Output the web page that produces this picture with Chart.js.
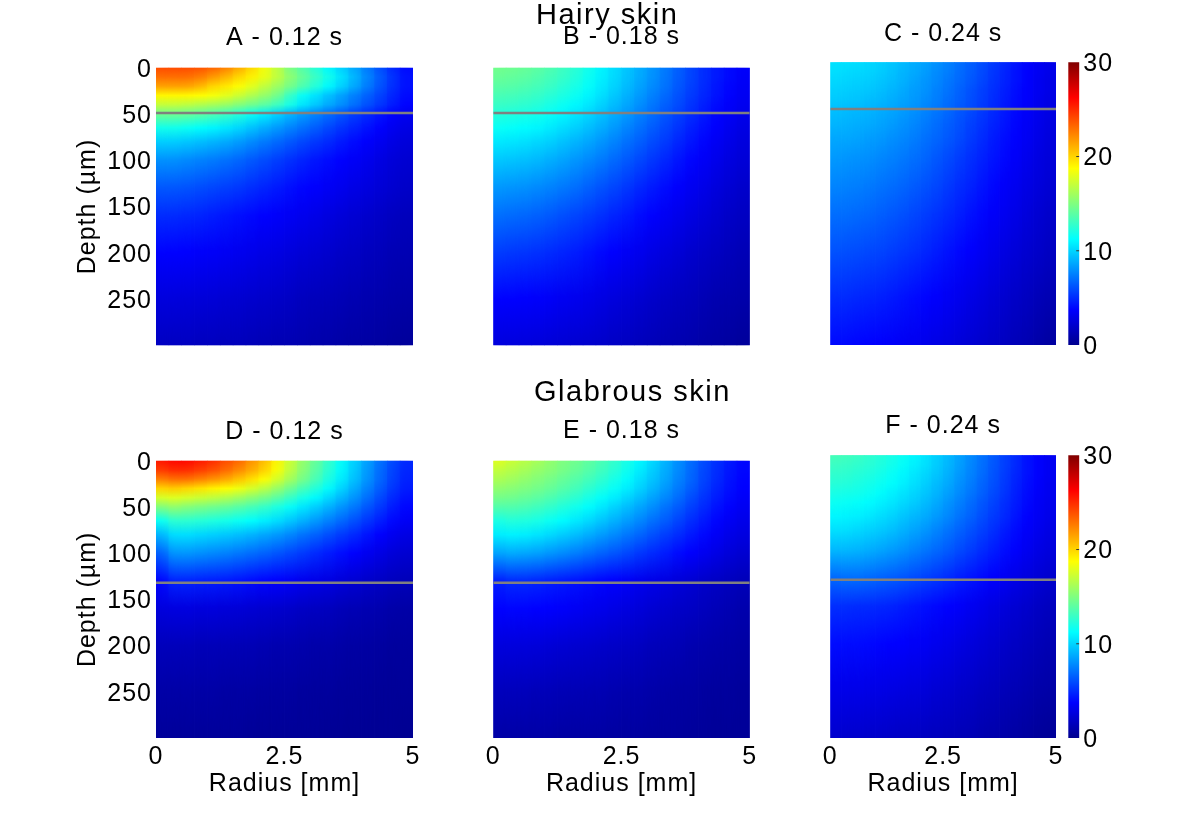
<!DOCTYPE html>
<html>
<head>
<meta charset="utf-8">
<title>Hairy and glabrous skin</title>
<script src="https://cdn.jsdelivr.net/npm/chart.js@4"></script>
<style>
    body { margin: 0; background: #fff; overflow: hidden; }
    canvas { position: absolute; }
    .sup { position: absolute; font: 29px/28px "Liberation Sans", Arial, sans-serif; letter-spacing: 1.5px; white-space: nowrap; color: #000; }
</style>
</head>
<body>
<svg width="0" height="0" style="position:absolute">
    <filter id="hblur" filterUnits="userSpaceOnUse" x="0" y="0" width="1200" height="829" color-interpolation-filters="sRGB">
        <feGaussianBlur stdDeviation="7 0"/>
    </filter>
</svg>
<div class="sup" style="left:536px;top:0px">Hairy skin</div>
<div class="sup" style="left:534px;top:377px">Glabrous skin</div>
<script>
var radii = [0.125, 0.375, 0.625, 0.875, 1.125, 1.375, 1.625, 1.875, 2.125, 2.375, 2.625, 2.875, 3.125, 3.375, 3.625, 3.875, 4.125, 4.375, 4.625, 4.875];
var depths = [0, 10, 20, 30, 40, 50, 65, 80, 100, 130, 160, 200, 250, 300];
var radiusTicks = [0, 2.5, 5];
var depthTicks = [0, 50, 100, 150, 200, 250];
var colorTicks = [0, 10, 20, 30];
var colorMarks = [10, 20];

// one row per depth, one value per radius
var hairy012 = [
    [24, 24, 24, 23.8, 23.3, 22.5, 21.3, 20, 18.5, 17, 15, 13.8, 12.5, 11.2, 10, 8.8, 7.5, 6.2, 5, 4],
    [23, 23, 23, 22.6, 21.8, 21, 20, 19.2, 18.2, 17, 15.5, 14.3, 13, 11.8, 10.5, 9.2, 7.8, 6.5, 5.3, 4.2],
    [21.5, 21.5, 21.5, 21, 20, 19.5, 18.8, 18, 17, 16, 14.8, 13.6, 12.4, 11.2, 10, 8.8, 7.5, 6.3, 5.2, 4.2],
    [19, 19, 19, 18.8, 18.5, 18, 17.3, 16.5, 15.7, 14.8, 13, 11.5, 10.5, 9.5, 8.6, 7.6, 6.7, 5.8, 4.9, 4],
    [17, 17, 16.8, 16.5, 16.2, 15.8, 15.2, 14.6, 14, 13.2, 12, 10.6, 9.7, 8.8, 8, 7.1, 6.2, 5.4, 4.6, 3.8],
    [14.5, 14.5, 14.3, 14, 13.6, 13, 12.4, 11.6, 10.8, 10, 9.2, 8.4, 7.7, 7, 6.3, 5.6, 5, 4.4, 3.8, 3.2],
    [11.8, 11.8, 11.6, 11.3, 11, 10.6, 10.1, 9.5, 8.9, 8.3, 7.7, 7.1, 6.5, 5.9, 5.3, 4.8, 4.3, 3.8, 3.3, 2.8],
    [9.8, 9.8, 9.6, 9.4, 9.1, 8.8, 8.4, 7.9, 7.4, 6.9, 6.4, 5.9, 5.4, 5, 4.5, 4.1, 3.7, 3.3, 2.9, 2.5],
    [8, 8, 7.8, 7.6, 7.4, 7.1, 6.8, 6.4, 6, 5.6, 5.2, 4.8, 4.4, 4.1, 3.8, 3.5, 3.2, 2.8, 2.5, 2.2],
    [6.3, 6.3, 6.2, 6, 5.8, 5.6, 5.4, 5.1, 4.8, 4.5, 4.2, 3.9, 3.7, 3.4, 3.2, 2.9, 2.7, 2.4, 2.2, 1.9],
    [5, 5, 4.9, 4.8, 4.6, 4.4, 4.2, 4, 3.8, 3.6, 3.4, 3.2, 3, 2.7, 2.5, 2.3, 2.1, 1.9, 1.7, 1.5],
    [3.8, 3.8, 3.7, 3.6, 3.5, 3.4, 3.2, 3.1, 2.9, 2.8, 2.6, 2.4, 2.3, 2.1, 1.9, 1.8, 1.6, 1.5, 1.3, 1.2],
    [2.6, 2.6, 2.5, 2.5, 2.4, 2.3, 2.2, 2.1, 2, 1.9, 1.8, 1.6, 1.5, 1.4, 1.3, 1.2, 1.1, 1, 0.9, 0.8],
    [1.7, 1.7, 1.7, 1.6, 1.6, 1.5, 1.5, 1.4, 1.3, 1.2, 1.2, 1.1, 1, 0.9, 0.8, 0.7, 0.7, 0.6, 0.5, 0.4]
];
var hairy018 = [
    [14.6, 14.5, 14.3, 14, 13.6, 13.1, 12.5, 11.8, 11, 10.3, 9.6, 8.9, 8.2, 7.4, 6.6, 5.8, 5.1, 4.5, 4, 3.6],
    [14.3, 14.2, 14, 13.7, 13.3, 12.9, 12.3, 11.6, 10.9, 10.2, 9.5, 8.8, 8.1, 7.3, 6.5, 5.8, 5.1, 4.5, 4, 3.5],
    [13.9, 13.8, 13.6, 13.3, 13, 12.5, 12, 11.4, 10.7, 10, 9.3, 8.6, 7.9, 7.2, 6.4, 5.7, 5, 4.4, 3.9, 3.4],
    [13.4, 13.3, 13.1, 12.9, 12.5, 12.1, 11.6, 11, 10.4, 9.7, 9, 8.3, 7.6, 6.9, 6.2, 5.5, 4.9, 4.3, 3.8, 3.3],
    [12.9, 12.8, 12.6, 12.4, 12, 11.6, 11.1, 10.6, 10, 9.3, 8.7, 8, 7.3, 6.6, 6, 5.3, 4.7, 4.1, 3.6, 3.2],
    [12.3, 12.2, 12, 11.8, 11.5, 11.1, 10.6, 10.1, 9.5, 8.9, 8.3, 7.6, 7, 6.3, 5.7, 5.1, 4.5, 3.9, 3.5, 3],
    [11.5, 11.4, 11.2, 11, 10.7, 10.3, 9.9, 9.4, 8.9, 8.3, 7.7, 7.1, 6.5, 5.9, 5.3, 4.7, 4.2, 3.7, 3.2, 2.8],
    [10.6, 10.5, 10.4, 10.1, 9.9, 9.5, 9.1, 8.7, 8.2, 7.7, 7.1, 6.6, 6, 5.5, 4.9, 4.4, 3.9, 3.4, 3, 2.6],
    [9.6, 9.5, 9.4, 9.2, 8.9, 8.6, 8.2, 7.8, 7.4, 6.9, 6.4, 5.9, 5.4, 4.9, 4.4, 3.9, 3.5, 3.1, 2.7, 2.4],
    [8.2, 8.1, 8, 7.8, 7.6, 7.3, 7, 6.6, 6.2, 5.8, 5.4, 4.9, 4.5, 4.1, 3.7, 3.3, 3, 2.6, 2.3, 2],
    [7, 6.9, 6.8, 6.6, 6.4, 6.1, 5.8, 5.5, 5.2, 4.8, 4.5, 4.1, 3.8, 3.4, 3.1, 2.8, 2.5, 2.2, 1.9, 1.7],
    [5.5, 5.4, 5.3, 5.2, 5, 4.8, 4.6, 4.3, 4, 3.7, 3.4, 3.2, 2.9, 2.6, 2.4, 2.1, 1.9, 1.7, 1.5, 1.3],
    [3.8, 3.8, 3.7, 3.6, 3.5, 3.3, 3.2, 3, 2.8, 2.6, 2.4, 2.2, 2, 1.8, 1.6, 1.5, 1.3, 1.1, 1, 0.9],
    [2.6, 2.6, 2.6, 2.5, 2.4, 2.3, 2.2, 2.1, 2, 1.8, 1.7, 1.5, 1.4, 1.2, 1.1, 1, 0.8, 0.7, 0.6, 0.4]
];
var hairy024 = [
    [10.4, 10.4, 10.3, 10.1, 9.9, 9.6, 9.3, 8.9, 8.5, 8.1, 7.6, 7.1, 6.6, 6.1, 5.5, 5, 4.4, 3.9, 3.4, 3],
    [10.3, 10.2, 10.1, 10, 9.8, 9.5, 9.1, 8.8, 8.4, 7.9, 7.5, 7, 6.5, 6, 5.4, 4.9, 4.3, 3.8, 3.4, 3],
    [10.1, 10, 9.9, 9.8, 9.6, 9.3, 9, 8.6, 8.2, 7.8, 7.3, 6.9, 6.4, 5.9, 5.3, 4.8, 4.3, 3.8, 3.3, 2.9],
    [9.9, 9.8, 9.7, 9.6, 9.4, 9.1, 8.8, 8.4, 8.1, 7.6, 7.2, 6.7, 6.2, 5.7, 5.2, 4.7, 4.2, 3.7, 3.3, 2.9],
    [9.7, 9.6, 9.5, 9.3, 9.2, 8.9, 8.6, 8.3, 7.9, 7.5, 7, 6.6, 6.1, 5.6, 5.1, 4.6, 4.1, 3.7, 3.2, 2.8],
    [9.4, 9.3, 9.2, 9.1, 8.9, 8.7, 8.4, 8.1, 7.7, 7.3, 6.9, 6.4, 6, 5.5, 5, 4.5, 4, 3.6, 3.2, 2.8],
    [9.1, 9, 8.9, 8.8, 8.6, 8.4, 8.1, 7.8, 7.4, 7, 6.6, 6.2, 5.7, 5.3, 4.8, 4.4, 3.9, 3.5, 3.1, 2.7],
    [8.7, 8.7, 8.6, 8.4, 8.3, 8, 7.8, 7.5, 7.1, 6.8, 6.4, 6, 5.5, 5.1, 4.6, 4.2, 3.8, 3.4, 3, 2.6],
    [8.3, 8.2, 8.1, 8, 7.8, 7.6, 7.4, 7.1, 6.8, 6.4, 6, 5.6, 5.2, 4.8, 4.4, 4, 3.6, 3.2, 2.8, 2.5],
    [7.7, 7.6, 7.5, 7.4, 7.2, 7, 6.8, 6.5, 6.2, 5.9, 5.5, 5.1, 4.8, 4.4, 4, 3.6, 3.3, 2.9, 2.6, 2.3],
    [7, 7, 6.9, 6.8, 6.6, 6.4, 6.2, 5.9, 5.6, 5.3, 5, 4.7, 4.3, 4, 3.6, 3.3, 3, 2.6, 2.3, 2],
    [6.2, 6.1, 6, 5.9, 5.8, 5.6, 5.4, 5.2, 4.9, 4.6, 4.3, 4, 3.7, 3.4, 3.1, 2.8, 2.5, 2.2, 2, 1.7],
    [5, 5, 4.9, 4.8, 4.7, 4.5, 4.3, 4.1, 3.9, 3.7, 3.4, 3.2, 2.9, 2.7, 2.4, 2.2, 1.9, 1.7, 1.4, 1.2],
    [4, 4, 3.9, 3.8, 3.7, 3.6, 3.4, 3.3, 3.1, 2.9, 2.7, 2.5, 2.3, 2.1, 1.9, 1.7, 1.4, 1.2, 0.9, 0.6]
];
var glabrous012 = [
    [25.5, 26, 26, 25.5, 25, 24, 23.3, 22, 20.8, 19, 17.3, 15.7, 14.3, 12.9, 11.4, 10, 8.6, 7.2, 6, 4.9],
    [24.5, 25, 25, 24.5, 24, 23.2, 22.3, 21.3, 20.2, 18.7, 17, 15.4, 14, 12.6, 11.2, 9.8, 8.4, 7, 5.8, 4.8],
    [22.5, 23, 23, 22.5, 22, 21.4, 20.6, 19.8, 18.8, 17.6, 16.2, 14.8, 13.5, 12.1, 10.8, 9.5, 8.2, 6.9, 5.7, 4.7],
    [20, 20.3, 20, 19.6, 19.2, 18.8, 18.3, 17.6, 16.8, 15.8, 14.6, 13.4, 12.4, 11.3, 10.1, 8.9, 7.7, 6.5, 5.4, 4.5],
    [17.5, 17.8, 17.5, 17.2, 16.9, 16.5, 16, 15.4, 14.8, 14, 13, 12, 11.2, 10.2, 9.2, 8.2, 7.1, 6, 5, 4.2],
    [15, 15.6, 15.2, 14.9, 14.6, 14.3, 13.9, 13.4, 12.9, 12.2, 11.5, 10.6, 9.9, 9.1, 8.2, 7.4, 6.4, 5.5, 4.6, 3.9],
    [11.5, 12.6, 12.6, 12.4, 12.2, 11.9, 11.6, 11.3, 10.8, 10.3, 9.7, 9, 8.3, 7.6, 6.9, 6.2, 5.4, 4.7, 4, 3.4],
    [9, 10.3, 10.3, 10.1, 9.9, 9.7, 9.4, 9.1, 8.7, 8.3, 7.8, 7.2, 6.7, 6.1, 5.5, 5, 4.4, 3.8, 3.3, 2.8],
    [6.5, 8.2, 8.2, 8, 7.8, 7.6, 7.3, 7, 6.7, 6.3, 5.9, 5.5, 5, 4.6, 4.2, 3.8, 3.3, 2.9, 2.5, 2.2],
    [3.8, 4.8, 4.8, 4.7, 4.6, 4.5, 4.3, 4.1, 3.9, 3.7, 3.5, 3.2, 3, 2.8, 2.5, 2.3, 2, 1.8, 1.6, 1.4],
    [2.6, 2.7, 2.7, 2.6, 2.6, 2.5, 2.4, 2.3, 2.2, 2.1, 2, 1.8, 1.7, 1.6, 1.4, 1.3, 1.2, 1.1, 0.9, 0.8],
    [1.5, 1.5, 1.5, 1.4, 1.4, 1.4, 1.3, 1.3, 1.2, 1.1, 1.1, 1, 0.9, 0.9, 0.8, 0.7, 0.7, 0.6, 0.5, 0.5],
    [0.8, 0.8, 0.8, 0.8, 0.8, 0.7, 0.7, 0.7, 0.6, 0.6, 0.6, 0.5, 0.5, 0.5, 0.4, 0.4, 0.4, 0.3, 0.3, 0.3],
    [0.4, 0.4, 0.4, 0.4, 0.4, 0.4, 0.4, 0.3, 0.3, 0.3, 0.3, 0.3, 0.3, 0.2, 0.2, 0.2, 0.2, 0.2, 0.2, 0.1]
];
var glabrous018 = [
    [17.8, 17.2, 16.7, 16.2, 15.6, 15, 14.6, 14.1, 13.5, 12.8, 12, 11.1, 10.2, 9.1, 8, 7, 6, 5.2, 4.5, 3.9],
    [17, 16.6, 16.2, 15.7, 15.3, 14.8, 14.3, 13.8, 13.2, 12.5, 11.7, 10.8, 9.9, 8.9, 7.9, 6.9, 5.9, 5.1, 4.4, 3.9],
    [16.3, 16, 15.6, 15.2, 14.8, 14.3, 13.8, 13.3, 12.7, 12, 11.3, 10.4, 9.6, 8.7, 7.7, 6.8, 5.8, 5, 4.3, 3.8],
    [15.5, 15.3, 15, 14.7, 14.3, 13.8, 13.3, 12.7, 12.1, 11.5, 10.8, 10, 9.2, 8.3, 7.4, 6.5, 5.6, 4.8, 4.2, 3.7],
    [14.7, 14.6, 14.3, 14, 13.6, 13.1, 12.6, 12, 11.4, 10.8, 10.1, 9.4, 8.6, 7.8, 7, 6.1, 5.3, 4.6, 4, 3.5],
    [13.7, 13.7, 13.5, 13.2, 12.8, 12.3, 11.8, 11.3, 10.7, 10, 9.4, 8.7, 8, 7.2, 6.5, 5.7, 5, 4.3, 3.8, 3.3],
    [12, 12.3, 12.2, 12, 11.6, 11.2, 10.7, 10.2, 9.6, 9, 8.4, 7.8, 7.1, 6.5, 5.8, 5.1, 4.5, 3.9, 3.4, 3],
    [10.7, 10.9, 10.8, 10.5, 10.2, 9.8, 9.4, 8.9, 8.4, 7.9, 7.3, 6.8, 6.2, 5.6, 5.1, 4.5, 4, 3.5, 3, 2.7],
    [8.5, 8.8, 8.7, 8.5, 8.2, 7.9, 7.5, 7.1, 6.7, 6.3, 5.9, 5.4, 5, 4.6, 4.1, 3.7, 3.3, 2.9, 2.5, 2.2],
    [4.6, 5, 5, 4.9, 4.7, 4.5, 4.3, 4.1, 3.9, 3.7, 3.5, 3.2, 3, 2.8, 2.5, 2.3, 2, 1.8, 1.6, 1.4],
    [3.8, 3.9, 3.9, 3.8, 3.7, 3.6, 3.4, 3.2, 3.1, 2.9, 2.7, 2.5, 2.3, 2.1, 1.9, 1.8, 1.6, 1.4, 1.2, 1],
    [2.6, 2.6, 2.6, 2.5, 2.4, 2.3, 2.2, 2.1, 2, 1.9, 1.8, 1.7, 1.5, 1.4, 1.3, 1.1, 1, 0.9, 0.8, 0.7],
    [1.5, 1.5, 1.5, 1.4, 1.4, 1.3, 1.3, 1.2, 1.2, 1.1, 1, 1, 0.9, 0.8, 0.7, 0.7, 0.6, 0.5, 0.5, 0.4],
    [0.8, 0.8, 0.8, 0.8, 0.8, 0.7, 0.7, 0.7, 0.7, 0.6, 0.6, 0.6, 0.5, 0.5, 0.5, 0.4, 0.4, 0.3, 0.3, 0.3]
];
var glabrous024 = [
    [13.3, 13.2, 13, 12.7, 12.4, 12, 11.6, 11.1, 10.5, 9.9, 9.3, 8.6, 7.9, 7.2, 6.5, 5.7, 5, 4.3, 3.8, 3.3],
    [13, 12.9, 12.7, 12.5, 12.2, 11.8, 11.4, 10.9, 10.4, 9.8, 9.2, 8.5, 7.8, 7.1, 6.4, 5.7, 5, 4.3, 3.8, 3.3],
    [12.7, 12.6, 12.4, 12.2, 11.9, 11.5, 11.1, 10.6, 10.1, 9.6, 9, 8.3, 7.7, 7, 6.3, 5.6, 4.9, 4.3, 3.8, 3.3],
    [12.4, 12.3, 12.1, 11.9, 11.6, 11.3, 10.9, 10.4, 9.9, 9.3, 8.8, 8.1, 7.5, 6.8, 6.2, 5.5, 4.8, 4.2, 3.7, 3.2],
    [12, 11.9, 11.8, 11.6, 11.3, 10.9, 10.5, 10.1, 9.6, 9.1, 8.5, 7.9, 7.3, 6.7, 6, 5.4, 4.7, 4.1, 3.6, 3.2],
    [11.6, 11.5, 11.4, 11.2, 10.9, 10.6, 10.2, 9.8, 9.3, 8.8, 8.2, 7.6, 7, 6.4, 5.8, 5.2, 4.6, 4, 3.5, 3.1],
    [11, 10.9, 10.8, 10.6, 10.3, 10, 9.6, 9.2, 8.8, 8.3, 7.8, 7.2, 6.7, 6.1, 5.5, 5, 4.4, 3.8, 3.4, 3],
    [10.3, 10.3, 10.1, 9.9, 9.7, 9.4, 9, 8.6, 8.2, 7.7, 7.2, 6.7, 6.2, 5.7, 5.2, 4.6, 4.1, 3.6, 3.2, 2.8],
    [9.2, 9.2, 9.1, 8.9, 8.7, 8.4, 8.1, 7.7, 7.3, 6.9, 6.5, 6, 5.6, 5.1, 4.7, 4.2, 3.8, 3.3, 2.9, 2.6],
    [6.8, 7, 7, 6.9, 6.7, 6.5, 6.3, 6, 5.7, 5.4, 5.1, 4.7, 4.4, 4.1, 3.7, 3.4, 3, 2.7, 2.4, 2.1],
    [5.1, 5.1, 5, 5, 4.9, 4.8, 4.6, 4.4, 4.2, 4, 3.8, 3.6, 3.3, 3.1, 2.8, 2.6, 2.3, 2.1, 1.8, 1.6],
    [4.1, 4.1, 4.1, 4, 3.9, 3.8, 3.7, 3.5, 3.4, 3.2, 3, 2.8, 2.6, 2.4, 2.2, 2, 1.8, 1.6, 1.4, 1.2],
    [3, 3, 3, 2.9, 2.9, 2.8, 2.7, 2.6, 2.5, 2.3, 2.2, 2, 1.9, 1.7, 1.6, 1.4, 1.3, 1.1, 0.9, 0.8],
    [2.1, 2.1, 2.1, 2, 2, 1.9, 1.8, 1.8, 1.7, 1.6, 1.5, 1.4, 1.3, 1.1, 1, 0.9, 0.7, 0.6, 0.4, 0.3]
];

// jet colormap anchors on the 0-30 colorbar
var jetValues = [0, 3.75, 11.25, 18.75, 26.25, 30];
var jetColors = [[0, 0, 143], [0, 0, 255], [0, 255, 255], [255, 255, 0], [255, 0, 0], [128, 0, 0]];

var TEXT_FONT = '"Liberation Sans", Arial, sans-serif';
var TEXT_SIZE = 25;
var GRAY_LINE = 'rgb(128,128,128)';

function jet(v) {
    var i = 0;
    while (i < jetValues.length - 2 && v > jetValues[i + 1]) i++;
    var t = Math.min(1, Math.max(0, (v - jetValues[i]) / (jetValues[i + 1] - jetValues[i])));
    var a = jetColors[i], b = jetColors[i + 1];
    return 'rgb(' + Math.round(a[0] + (b[0] - a[0]) * t) + ',' + Math.round(a[1] + (b[1] - a[1]) * t) + ',' + Math.round(a[2] + (b[2] - a[2]) * t) + ')';
}

// scriptable options also get resolved before the layout is done
function scaleReady(ctx) {
    var y = ctx.chart.scales.y;
    return ctx.dataIndex !== undefined && y && isFinite(y.getPixelForValue(0)) && isFinite(y.getPixelForValue(y.max));
}

// vertical fill for one radius column, stops placed by the depth scale
function columnFill(ctx, values) {
    if (!scaleReady(ctx)) return '#00008f';
    var chart = ctx.chart;
    var y = chart.scales.y;
    var g = chart.ctx.createLinearGradient(0, y.getPixelForValue(0), 0, y.getPixelForValue(300));
    depths.forEach(function (d, i) {
        g.addColorStop(d / 300, jet(values[i][ctx.dataIndex]));
    });
    return g;
}

var textStretch = {
    id: 'textStretch',
    beforeDraw: function (chart) { chart.ctx.letterSpacing = '1px'; }
};

// second pass of the columns is drawn blurred sideways, like shading interp
var softColumns = {
    id: 'softColumns',
    beforeDatasetDraw: function (chart, args) {
        if (chart.data.datasets[args.index].soft) chart.ctx.filter = 'url(#hblur)';
    },
    afterDatasetDraw: function (chart) { chart.ctx.filter = 'none'; }
};

function addCanvas(left, top, width, height) {
    var c = document.createElement('canvas');
    c.width = width;
    c.height = height;
    c.style.left = left + 'px';
    c.style.top = top + 'px';
    c.style.width = width + 'px';
    c.style.height = height + 'px';
    document.body.insertBefore(c, document.body.firstChild);
    return c;
}

function columnDataset(p, order, soft) {
    return {
        order: order,
        soft: soft,
        grouped: false,
        barPercentage: 1,
        categoryPercentage: 1,
        data: radii.map(function (r) { return { x: r, y: [0, 300] }; }),
        backgroundColor: function (ctx) { return columnFill(ctx, p.values); }
    };
}

function drawPanel(p) {
    var canvasLeft = Math.floor(p.x0) - 100;
    var canvasTop = Math.floor(p.y0) - 50;
    var canvasWidth = Math.ceil(p.x1) + 30 - canvasLeft;
    var canvasHeight = Math.ceil(p.y1) + 72 - canvasTop;
    var boxHeight = p.y0 - canvasTop;
    var titlePadBottom = p.y0 - p.titleY - 15;
    new Chart(addCanvas(canvasLeft, canvasTop, canvasWidth, canvasHeight), {
        type: 'bar',
        data: {
            datasets: [{
                type: 'line',
                order: 0,
                data: [{ x: 0, y: p.line }, { x: 5, y: p.line }],
                borderColor: GRAY_LINE,
                borderWidth: 2.5,
                pointRadius: 0
            }, columnDataset(p, 1, true), columnDataset(p, 2, false)]
        },
        options: {
            responsive: false,
            animation: false,
            devicePixelRatio: 1,
            events: [],
            layout: { padding: { right: canvasLeft + canvasWidth - p.x1 } },
            plugins: {
                legend: { display: false },
                tooltip: { enabled: false },
                title: {
                    display: true,
                    fullSize: false,
                    text: p.title,
                    color: '#000',
                    font: { family: TEXT_FONT, size: TEXT_SIZE, weight: 'normal', lineHeight: 1.2 },
                    padding: { top: boxHeight - 30 - titlePadBottom, bottom: titlePadBottom }
                }
            },
            scales: {
                x: {
                    type: 'linear',
                    offset: false,
                    min: 0,
                    max: 5,
                    grid: { display: false, drawTicks: false },
                    border: { display: false },
                    afterBuildTicks: function (s) { s.ticks = radiusTicks.map(function (v) { return { value: v }; }); },
                    afterFit: function (s) { s.height = canvasTop + canvasHeight - p.y1; },
                    ticks: {
                        display: p.showX,
                        autoSkip: false,
                        maxRotation: 0,
                        color: '#000',
                        padding: 4,
                        font: { family: TEXT_FONT, size: TEXT_SIZE },
                        callback: function (v) { return String(v); }
                    },
                    title: {
                        display: p.showX,
                        text: 'Radius [mm]',
                        color: '#000',
                        font: { family: TEXT_FONT, size: TEXT_SIZE, lineHeight: 1.2 },
                        padding: { top: 0, bottom: canvasTop + canvasHeight - 784 - 15 }
                    }
                },
                y: {
                    type: 'linear',
                    reverse: true,
                    min: 0,
                    max: 300,
                    grid: { display: false, drawTicks: false },
                    border: { display: false },
                    afterBuildTicks: function (s) { s.ticks = depthTicks.map(function (v) { return { value: v }; }); },
                    afterFit: function (s) { s.width = p.x0 - canvasLeft; },
                    ticks: {
                        display: p.showY,
                        autoSkip: false,
                        color: '#000',
                        padding: 4,
                        labelOffset: 2,
                        font: { family: TEXT_FONT, size: TEXT_SIZE },
                        callback: function (v) { return String(v); }
                    },
                    title: {
                        display: p.showY,
                        text: 'Depth (µm)',
                        color: '#000',
                        font: { family: TEXT_FONT, size: TEXT_SIZE, lineHeight: 1.2 },
                        padding: { top: 88 - canvasLeft - 15, bottom: 0 }
                    }
                }
            }
        },
        plugins: [textStretch, softColumns]
    });
}

function drawColorbar(y0, y1) {
    var x0 = 1068.3, x1 = 1079.3;
    var canvasLeft = 1060, canvasTop = Math.floor(y0) - 20;
    var canvasWidth = 80, canvasHeight = Math.ceil(y1) + 20 - canvasTop;
    var marks = colorMarks.map(function (v) {
        return {
            type: 'line',
            order: 0,
            data: [{ x: 0.72, y: v }, { x: 1, y: v }],
            borderColor: '#333',
            borderWidth: 1,
            pointRadius: 0
        };
    });
    new Chart(addCanvas(canvasLeft, canvasTop, canvasWidth, canvasHeight), {
        type: 'bar',
        data: {
            datasets: marks.concat([{
                order: 1,
                barPercentage: 1,
                categoryPercentage: 1,
                data: [{ x: 0.5, y: [0, 30] }],
                backgroundColor: function (ctx) {
                    if (!scaleReady(ctx)) return '#00008f';
                    var y = ctx.chart.scales.y;
                    var g = ctx.chart.ctx.createLinearGradient(0, y.getPixelForValue(0), 0, y.getPixelForValue(30));
                    jetValues.forEach(function (v) { g.addColorStop(v / 30, jet(v)); });
                    return g;
                }
            }])
        },
        options: {
            responsive: false,
            animation: false,
            devicePixelRatio: 1,
            events: [],
            layout: { padding: { left: x0 - canvasLeft, top: y0 - canvasTop, bottom: canvasTop + canvasHeight - y1 } },
            plugins: { legend: { display: false }, tooltip: { enabled: false } },
            scales: {
                x: { type: 'linear', display: false, offset: false, min: 0, max: 1 },
                y: {
                    type: 'linear',
                    position: 'right',
                    min: 0,
                    max: 30,
                    grid: { display: false, drawTicks: false },
                    border: { display: false },
                    afterBuildTicks: function (s) { s.ticks = colorTicks.map(function (v) { return { value: v }; }); },
                    afterFit: function (s) { s.width = canvasLeft + canvasWidth - x1; },
                    ticks: {
                        autoSkip: false,
                        color: '#000',
                        padding: 4,
                        labelOffset: 2,
                        font: { family: TEXT_FONT, size: TEXT_SIZE },
                        callback: function (v) { return String(v); }
                    }
                }
            }
        },
        plugins: [textStretch]
    });
}

window.onload = function () {
    drawPanel({ title: 'A - 0.12 s', values: hairy012, line: 49, x0: 156, x1: 413, y0: 67.7, y1: 345.3, titleY: 38, showX: false, showY: true });
    drawPanel({ title: 'B - 0.18 s', values: hairy018, line: 49, x0: 493.3, x1: 749.8, y0: 67.7, y1: 345.3, titleY: 37, showX: false, showY: false });
    drawPanel({ title: 'C - 0.24 s', values: hairy024, line: 49.5, x0: 830.3, x1: 1056, y0: 62.3, y1: 345, titleY: 34, showX: false, showY: false });
    drawPanel({ title: 'D - 0.12 s', values: glabrous012, line: 132, x0: 156, x1: 413, y0: 460.7, y1: 738, titleY: 432, showX: true, showY: true });
    drawPanel({ title: 'E - 0.18 s', values: glabrous018, line: 132, x0: 493.3, x1: 749.8, y0: 460.7, y1: 738, titleY: 431, showX: true, showY: false });
    drawPanel({ title: 'F - 0.24 s', values: glabrous024, line: 132, x0: 830.3, x1: 1056, y0: 455.3, y1: 738, titleY: 426, showX: true, showY: false });
    drawColorbar(62.3, 345);
    drawColorbar(455.3, 738);
};
</script>
</body>
</html>
